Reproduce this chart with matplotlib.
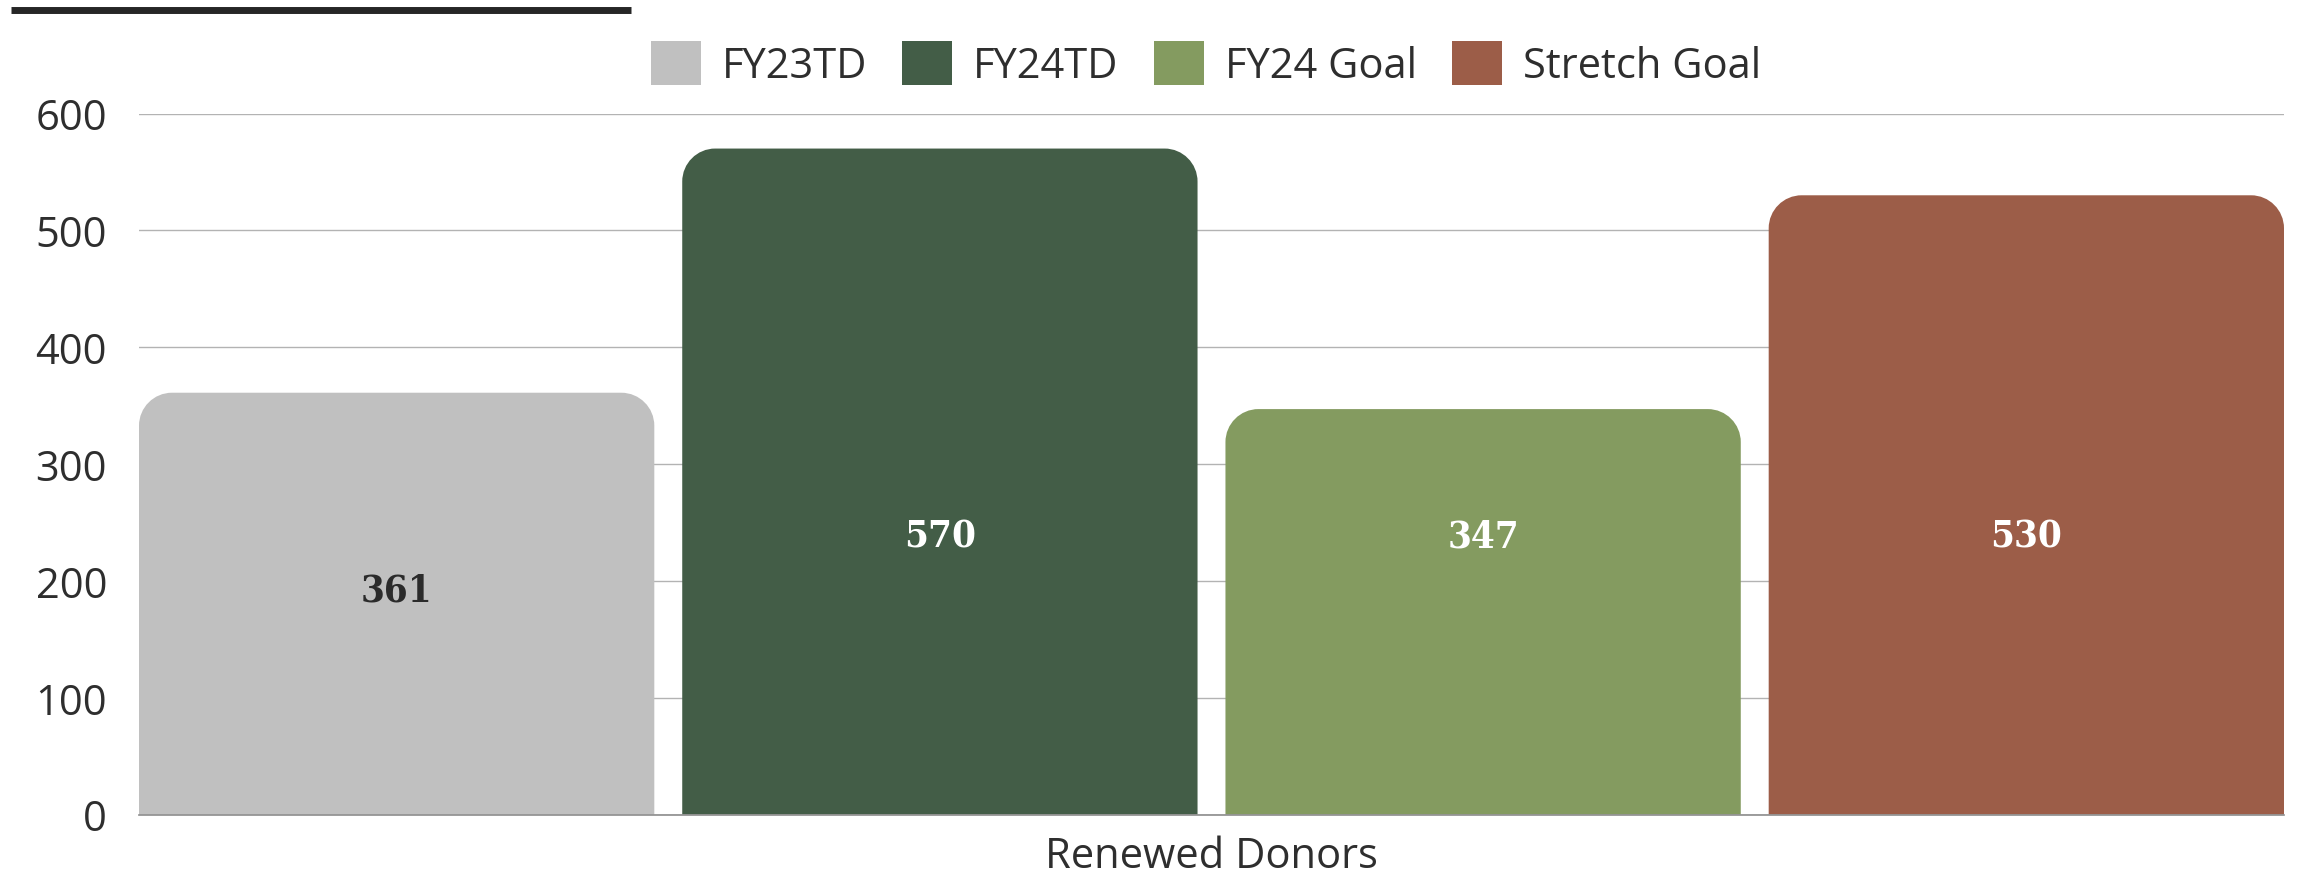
import os
import matplotlib
matplotlib.use("Agg")
import matplotlib.pyplot as plt
from matplotlib import font_manager
from matplotlib.font_manager import FontProperties
from matplotlib.patches import PathPatch, Patch
from matplotlib.path import Path
from matplotlib.lines import Line2D

# ---- data ----
category = "Renewed Donors"
series = ["FY23TD", "FY24TD", "FY24 Goal", "Stretch Goal"]
values = [361, 570, 347, 530]
yticks = [0, 100, 200, 300, 400, 500, 600]

# ---- style ----
colors = ["#C0C0C0", "#435D47", "#849B60", "#9C5D48"]
label_colors = ["#2b2b2b", "#ffffff", "#ffffff", "#ffffff"]
label_y = [192, 238, 238, 238]

# pick a condensed bold face for the value labels if one is installed
cands = ["DejaVuSerifCondensed-Bold.ttf", "LiberationSansNarrow-Bold.ttf",
         "DejaVuSansCondensed-Bold.ttf"]
sizes = {"DejaVuSerifCondensed-Bold.ttf": 27.5, "LiberationSansNarrow-Bold.ttf": 28.5,
         "DejaVuSansCondensed-Bold.ttf": 27.5}
found = {os.path.basename(f.fname): f.fname for f in font_manager.fontManager.ttflist}
val_fp = None
for c in cands:
    if c in found:
        val_fp = FontProperties(fname=found[c], size=sizes[c])
        break
if val_fp is None:
    val_fp = FontProperties(family="DejaVu Serif", weight="bold", size=25.5)

W, H, DPI = 23.0, 8.79, 100
fig = plt.figure(figsize=(W, H), dpi=DPI)
fig.patch.set_facecolor("white")

ax_l, ax_r, ax_b, ax_t = 139, 2284, 815.5, 114.5
ax = fig.add_axes([ax_l / 2300, 1 - ax_b / 879, (ax_r - ax_l) / 2300, (ax_b - ax_t) / 879])

bar_w = 0.9486
xs = list(range(len(values)))
bars = ax.bar(xs, values, width=bar_w, color=colors, zorder=2)
ax.set_xlim(-bar_w / 2, len(values) - 1 + bar_w / 2)
ax.set_ylim(0, 600)

# rounded top corners
r_px = 33
xr = (ax.get_xlim()[1] - ax.get_xlim()[0]) / (ax_r - ax_l) * r_px
yr = (ax.get_ylim()[1] - ax.get_ylim()[0]) / (ax_b - ax_t) * r_px
k = 0.5523
for b, c in zip(bars, colors):
    x0, w, h = b.get_x(), b.get_width(), b.get_height()
    x1 = x0 + w
    verts = [
        (x0, 0), (x0, h - yr),
        (x0, h - yr + k * yr), (x0 + xr - k * xr, h), (x0 + xr, h),
        (x1 - xr, h),
        (x1 - xr + k * xr, h), (x1, h - yr + k * yr), (x1, h - yr),
        (x1, 0), (x0, 0),
    ]
    codes = [Path.MOVETO, Path.LINETO,
             Path.CURVE4, Path.CURVE4, Path.CURVE4,
             Path.LINETO,
             Path.CURVE4, Path.CURVE4, Path.CURVE4,
             Path.LINETO, Path.CLOSEPOLY]
    ax.add_patch(PathPatch(Path(verts, codes), facecolor=c, edgecolor="none", zorder=2))
    b.set_visible(False)

# value labels
for x, v, lc, ly in zip(xs, values, label_colors, label_y):
    ax.text(x, ly, str(v), ha="center", va="center", color=lc,
            fontproperties=val_fp, zorder=3)

# grid and axes
ax.set_yticks(yticks)
ax.set_yticklabels([str(t) for t in yticks])
ax.grid(axis="y", color="#b3b3b3", linewidth=1.0, zorder=1)
ax.set_axisbelow(True)
for s in ["top", "right", "left"]:
    ax.spines[s].set_visible(False)
ax.spines["bottom"].set_color("#8c8c8c")
ax.spines["bottom"].set_linewidth(1.2)
ax.tick_params(axis="y", length=0, pad=23, labelsize=30, labelcolor="#2e2e2e")
ax.set_xticks([(len(values) - 1) / 2])
ax.set_xticklabels([category])
ax.tick_params(axis="x", length=0, pad=15, labelsize=30, labelcolor="#2e2e2e")
for lab in ax.get_xticklabels() + ax.get_yticklabels():
    lab.set_family("Open Sans")

# legend
handles = [Patch(facecolor=c, edgecolor="none") for c in colors]
fig.legend(handles, series, loc="center", bbox_to_anchor=(1206 / 2300, 1 - 65 / 879),
           ncol=4, frameon=False, prop={"family": "Open Sans", "size": 30},
           handlelength=1.2, handleheight=1.25, handletextpad=0.5, columnspacing=0.85,
           labelcolor="#2e2e2e")

# top decorative rule
fig.add_artist(Line2D([11 / 2300, 631 / 2300], [1 - 10.5 / 879, 1 - 10.5 / 879], color="#262626",
                      linewidth=5.0, transform=fig.transFigure, solid_capstyle="butt"))

fig.savefig("out.png", dpi=DPI, facecolor="white")
